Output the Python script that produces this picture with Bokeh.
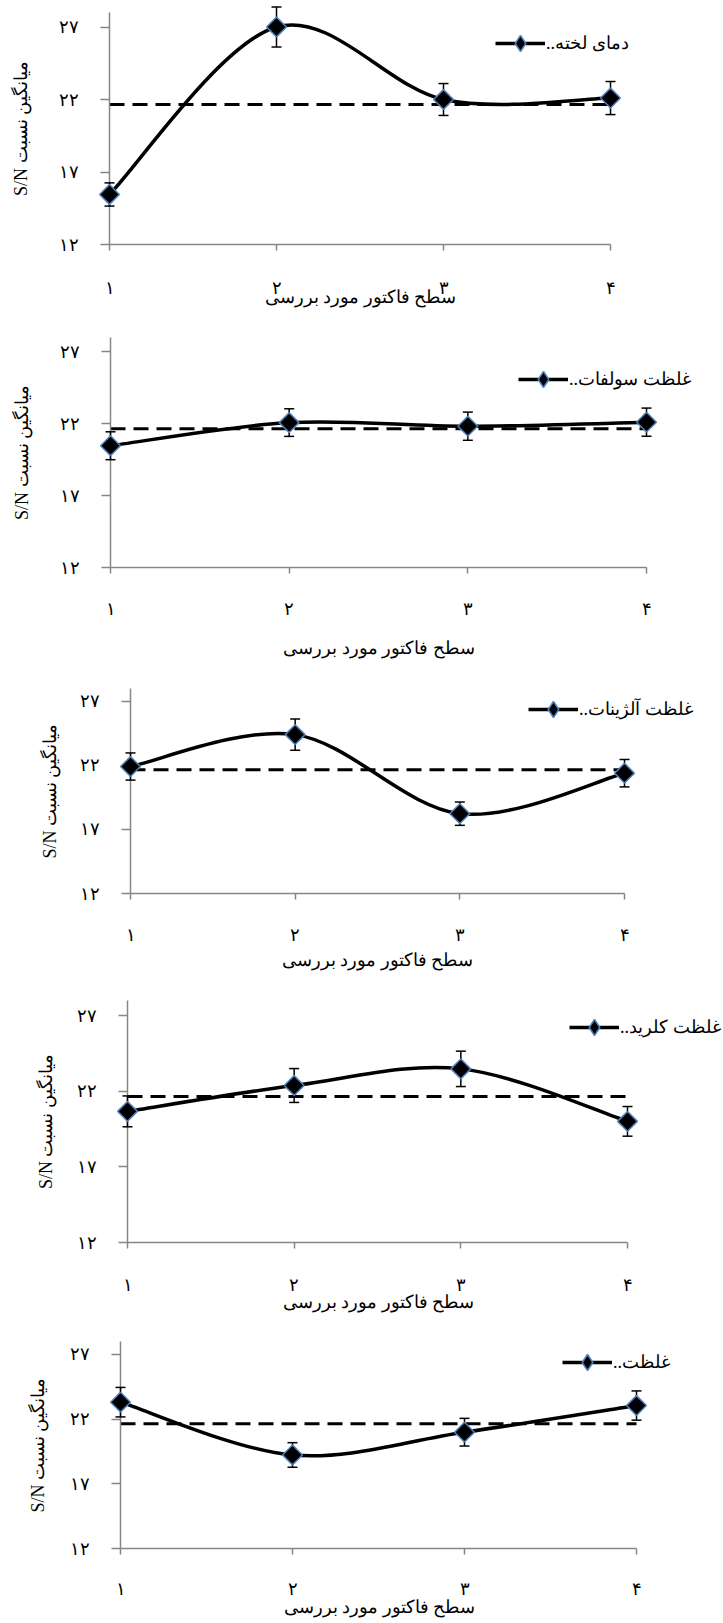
import math
from bokeh.plotting import figure
from bokeh.models import (ColumnDataSource, Legend, LegendItem, FixedTicker, Range1d)
from bokeh.embed import file_html
from bokeh.resources import INLINE

# ---------------- data ----------------
levels = [1, 2, 3, 4]
x_tick_labels = ["۱", "۲", "۳", "۴"]
y_ticks = [12, 17, 22, 27]
y_tick_labels = ["۱۲", "۱۷", "۲۲", "۲۷"]
y_min, y_max = 12, 28

grand_mean_sn = 21.65

factor_names = ["دمای لخته", "غلظت سولفات", "غلظت آلژینات", "غلظت کلرید", "غلظت"]

sn_temp = [15.45, 27.0, 22.0, 22.1]
err_temp = [0.8, 1.38, 1.1, 1.14]

sn_sulfate = [20.47, 22.08, 21.83, 22.11]
err_sulfate = [0.97, 0.96, 0.98, 0.98]

sn_alginate = [21.91, 24.4, 18.23, 21.39]
err_alginate = [1.06, 1.22, 0.91, 1.07]

sn_chloride = [20.67, 22.38, 23.48, 20.01]
err_chloride = [1.02, 1.12, 1.17, 0.98]

sn_last = [23.31, 19.23, 20.99, 23.05]
err_last = [1.14, 0.95, 1.07, 1.13]

x_title = "سطح فاکتور مورد بررسی"
y_title = "\u202bمیانگین نسبت S/N\u202c"

series = [(sn_temp, err_temp), (sn_sulfate, err_sulfate), (sn_alginate, err_alginate),
          (sn_chloride, err_chloride), (sn_last, err_last)]

# ---------------- layout (sizes / positions only) ----------------
W = 723
GLYPH_W, GLYPH_H = 50, 40
SPACE_PX = 4.5          # width of a no-break space at 18px (Liberation Serif)
# left: pixel of the y axis, x4: pixel where the last level sits
layouts = [
    dict(h=320, top=12, bottom=76, left=109, x4=610, lab=27, tit=-14, ytit=25, leg=(386, 181)),
    dict(h=352, top=17, bottom=105, left=110, x4=646, lab=25, tit=16, ytit=25, leg=(408, 168)),
    dict(h=308, top=16, bottom=87, left=130, x4=624, lab=25, tit=2, ytit=17, leg=(398, 164)),
    dict(h=342, top=20, bottom=80, left=127, x4=627, lab=26, tit=-6, ytit=18, leg=(442, 195)),
    dict(h=301, top=19, bottom=75, left=120, x4=636, lab=24, tit=-5, ytit=19, leg=(442, 166)),
]

FONT = "Liberation Serif"
AXIS_GRAY = "#868686"
MARKER_EDGE = "#4F81BD"
NAN = float("nan")


def smooth_segments(xs, ys):
    """Bezier control points (Catmull-Rom style, as a spreadsheet 'smoothed line')."""
    n = len(xs)
    d = dict(x0=[], y0=[], x1=[], y1=[], cx0=[], cy0=[], cx1=[], cy1=[])
    for i in range(n - 1):
        xp, yp = (xs[i - 1], ys[i - 1]) if i > 0 else (xs[i], ys[i])
        xn, yn = (xs[i + 2], ys[i + 2]) if i + 2 < n else (xs[i + 1], ys[i + 1])
        d["x0"].append(xs[i]); d["y0"].append(ys[i])
        d["x1"].append(xs[i + 1]); d["y1"].append(ys[i + 1])
        d["cx0"].append(xs[i] + (xs[i + 1] - xp) / 6.0)
        d["cy0"].append(ys[i] + (ys[i + 1] - yp) / 6.0)
        d["cx1"].append(xs[i + 1] - (xn - xs[i]) / 6.0)
        d["cy1"].append(ys[i + 1] - (yn - ys[i]) / 6.0)
    return d


def make_chart(name, sn, err, L):
    # the frame runs to the right edge (room for the legend); the axis line stops at the last level
    span = levels[-1] - levels[0]
    x_end = levels[0] + (W - L["left"]) * span / (L["x4"] - L["left"])
    p = figure(width=W, height=L["h"], output_backend="svg", toolbar_location=None,
               x_range=Range1d(levels[0], x_end), y_range=Range1d(y_min, y_max),
               min_border_left=L["left"], min_border_right=0,
               min_border_top=L["top"], min_border_bottom=L["bottom"])
    p.outline_line_color = None
    p.xgrid.visible = False
    p.ygrid.visible = False
    p.background_fill_color = None
    p.border_fill_color = None

    # axes
    for ax in (p.xaxis[0], p.yaxis[0]):
        ax.axis_line_color = AXIS_GRAY
        ax.axis_line_width = 1.5
        ax.major_tick_line_color = AXIS_GRAY
        ax.major_tick_line_width = 1.5
        ax.minor_tick_line_color = None
        ax.major_tick_in = 0
        ax.major_label_text_font = FONT
        ax.major_label_text_font_size = "18px"
        ax.major_label_text_color = "black"
        ax.axis_label_text_font = FONT
        ax.axis_label_text_font_size = "18px"
        ax.axis_label_text_font_style = "normal"
        ax.axis_label_text_color = "black"

    # keep the x title centred under the 1..4 axis (trailing no-break spaces widen its box)
    pad = "\u00a0" * int(round((W - L["x4"]) / SPACE_PX))
    p.xaxis.bounds = (levels[0], levels[-1])
    p.xaxis.ticker = FixedTicker(ticks=levels)
    p.xaxis.major_label_overrides = {lv: lab for lv, lab in zip(levels, x_tick_labels)}
    p.xaxis.major_tick_out = 6
    p.xaxis.major_label_standoff = L["lab"]
    p.xaxis.axis_label = x_title + pad
    p.xaxis.axis_label_standoff = L["tit"]

    p.yaxis.ticker = FixedTicker(ticks=y_ticks)
    p.yaxis.major_label_overrides = {t: lab for t, lab in zip(y_ticks, y_tick_labels)}
    p.yaxis.major_tick_out = 9
    p.yaxis.major_label_standoff = 22
    p.yaxis.axis_label = y_title
    p.yaxis.axis_label_standoff = L["ytit"]

    # grand mean (dashed)
    p.line(x=[levels[0], levels[-1]], y=[grand_mean_sn, grand_mean_sn],
           line_color="black", line_width=3, line_dash="15 8")

    src = ColumnDataSource(dict(x=levels, y=sn,
                                lower=[v - e for v, e in zip(sn, err)],
                                upper=[v + e for v, e in zip(sn, err)]))

    # smoothed curve
    p.bezier(x0="x0", y0="y0", x1="x1", y1="y1", cx0="cx0", cy0="cy0",
             cx1="cx1", cy1="cy1", source=ColumnDataSource(smooth_segments(levels, sn)),
             line_color="black", line_width=3.5, level="overlay")

    # error bars (stem + caps)
    p.segment(x0="x", y0="lower", x1="x", y1="upper", source=src,
              line_color="black", line_width=1.5, level="overlay")
    for col in ("lower", "upper"):
        p.scatter(x="x", y=col, source=src, marker="dash", size=10,
                  line_color="black", line_width=1.5, level="overlay")

    # markers
    p.scatter(x="x", y="y", source=src, marker="square", angle=math.pi / 4, size=14,
              fill_color="black", line_color=MARKER_EDGE, line_width=1.5, level="overlay")

    # legend (sample glyphs from proxies that draw nothing in the plot area)
    lg_line = p.line(x=[NAN], y=[NAN], line_color="black", line_width=3.5)
    lg_mark = p.scatter(x=[NAN], y=[NAN], marker="diamond", size=10, fill_color="black",
                        line_color=MARKER_EDGE, line_width=1.5)
    legend = Legend(items=[LegendItem(label=".." + name, renderers=[lg_line, lg_mark])],
                    location=L["leg"], glyph_width=GLYPH_W, glyph_height=GLYPH_H,
                    label_standoff=1, padding=0, margin=0, spacing=0,
                    border_line_alpha=0, background_fill_alpha=0,
                    label_text_font=FONT, label_text_font_size="18px",
                    label_text_color="black")
    p.add_layout(legend)
    return p


charts = [make_chart(n, s, e, L) for n, (s, e), L in zip(factor_names, series, layouts)]

with open("out.html", "w") as f:
    f.write(file_html(charts, INLINE, title="S/N"))
